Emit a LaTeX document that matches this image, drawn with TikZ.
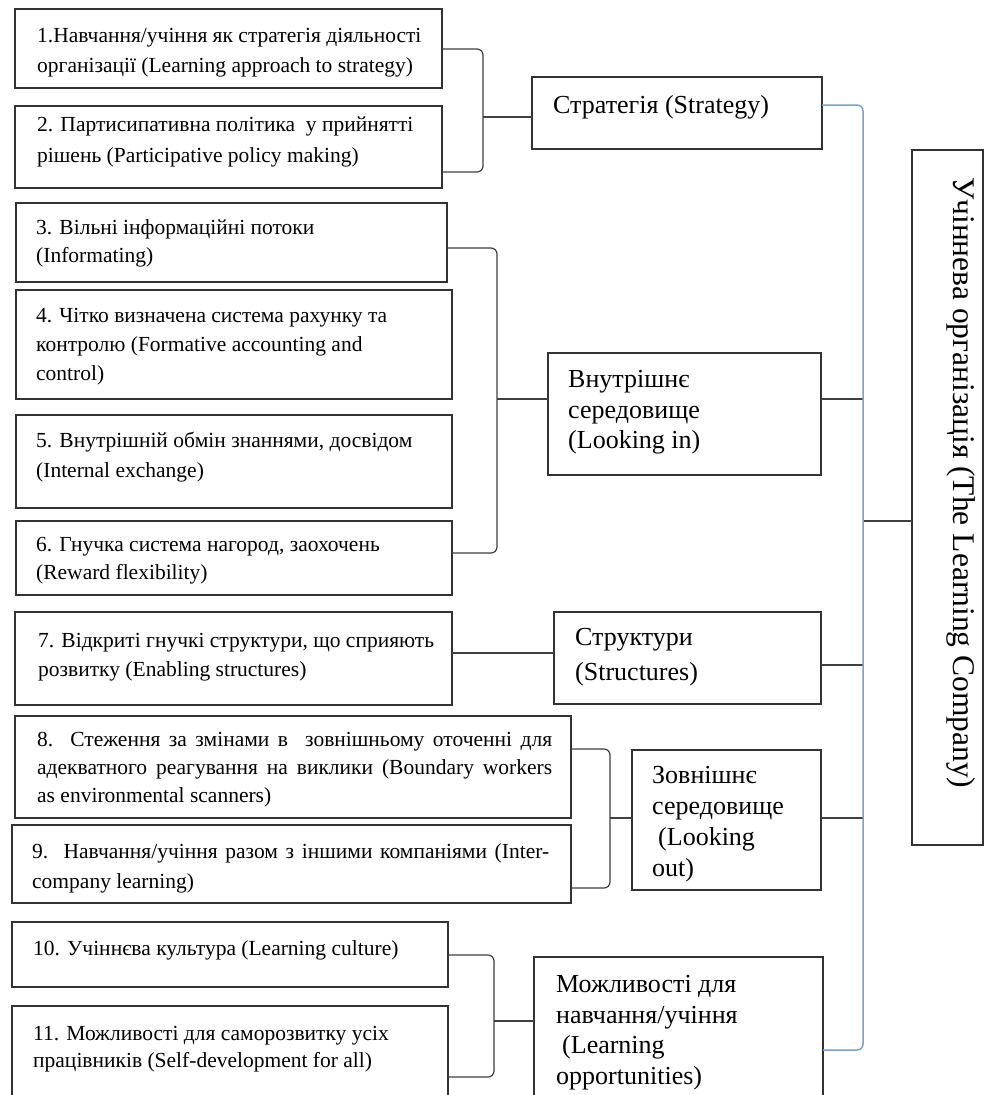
\documentclass[tikz,border=0pt]{standalone}
\usepackage{fontspec}
\setmainfont{Liberation Serif}
\usetikzlibrary{calc}
\definecolor{trunkblue}{RGB}{125,160,205}
\begin{document}
\begin{tikzpicture}[x=1pt,y=-1pt,
  frame/.style={draw=black!80, line width=1.3pt, rectangle, anchor=north west, inner sep=0pt, outer sep=0pt},
  ltext/.style={anchor=north west, align=left, inner sep=0pt, font=\fontsize{21.5}{30}\selectfont},
  mtext/.style={anchor=north west, align=left, inner sep=0pt, font=\fontsize{26}{30.5}\selectfont},
  conn/.style={draw=black!75, line width=1.2pt},
  brace/.style={conn, rounded corners=6pt},
  trunk/.style={draw=trunkblue, line width=1.5pt, rounded corners=6pt}]
\clip (0,0) rectangle (985,1095);
\fill[white] (0,0) rectangle (985,1095);

% left column of factors
\node[frame, minimum width=427pt, minimum height=79pt]  (b1)  at (15,9)    {};
\node[frame, minimum width=427pt, minimum height=82pt]  (b2)  at (15,106)  {};
\node[frame, minimum width=431pt, minimum height=79pt]  (b3)  at (16,203)  {};
\node[frame, minimum width=436pt, minimum height=109pt] (b4)  at (16,290)  {};
\node[frame, minimum width=436pt, minimum height=93pt]  (b5)  at (16,415)  {};
\node[frame, minimum width=436pt, minimum height=74pt]  (b6)  at (16,521)  {};
\node[frame, minimum width=437pt, minimum height=93pt]  (b7)  at (15,612)  {};
\node[frame, minimum width=556pt, minimum height=102pt] (b8)  at (15,716)  {};
\node[frame, minimum width=559pt, minimum height=78pt]  (b9)  at (12,825)  {};
\node[frame, minimum width=436pt, minimum height=65pt]  (b10) at (12,922)  {};
\node[frame, minimum width=436pt, minimum height=110pt] (b11) at (12,1006) {};

\node[ltext] (t1) at (37,21) {\strut 1.Навчання/учіння як стратегія діяльності\\організації (Learning approach to strategy)};
\node[ltext, font=\fontsize{21.5}{31}\selectfont] (t2) at (37,110) {\strut 2. Партисипативна політика\ \ у прийнятті\\рішень (Participative policy making)};
\node[ltext, font=\fontsize{21.5}{28}\selectfont] (t3) at (36,215) {\strut 3. Вільні інформаційні потоки\\(Informating)};
\node[ltext, font=\fontsize{21.5}{29}\selectfont] (t4) at (36,302) {\strut 4. Чітко визначена система рахунку та\\контролю (Formative accounting and\\control)};
\node[ltext] (t5) at (36,426) {\strut 5. Внутрішній обмін знаннями, досвідом\\(Internal exchange)};
\node[ltext, font=\fontsize{21.5}{28}\selectfont] (t6) at (36,532) {\strut 6. Гнучка система нагород, заохочень\\(Reward flexibility)};
\node[ltext, font=\fontsize{21.5}{29}\selectfont] (t7) at (38,627) {\strut 7. Відкриті гнучкі структури, що сприяють\\розвитку (Enabling structures)};
\node[ltext, font=\fontsize{21.5}{28}\selectfont] (t8) at (37,727) {\strut\makebox[515pt][s]{8.\ \ Стеження за змінами в\ \ зовнішньому оточенні для}\\\makebox[515pt][s]{адекватного реагування на виклики (Boundary workers}\\as environmental scanners)};
\node[ltext] (t9) at (32,837) {\strut\makebox[517pt][s]{9.\ \ Навчання/учіння разом з іншими компаніями (Inter-}\\company learning)};
\node[ltext] (t10) at (33,934) {\strut 10. Учіннєва культура (Learning culture)};
\node[ltext, font=\fontsize{21.5}{27}\selectfont] (t11) at (33,1021) {\strut 11. Можливості для саморозвитку усіх\\працівників (Self-development for all)};

% middle column of groups
\node[frame, minimum width=290pt, minimum height=72pt]  (strat) at (532,77)  {};
\node[frame, minimum width=273pt, minimum height=122pt] (li)    at (548,353) {};
\node[frame, minimum width=267pt, minimum height=92pt]  (st)    at (554,612) {};
\node[frame, minimum width=189pt, minimum height=140pt] (lo)    at (632,750) {};
\node[frame, minimum width=289pt, minimum height=160pt] (lop)   at (534,957) {};

\node[mtext] (ms) at (553,92) {\strut Стратегія (Strategy)};
\node[mtext] (mi) at (568,366) {\strut Внутрішнє\\середовище\\(Looking in)};
\node[mtext, font=\fontsize{26}{35}\selectfont] (mt) at (575,621) {\strut Структури\\(Structures)};
\node[mtext, font=\fontsize{26}{31}\selectfont] (mo) at (652,762) {\strut Зовнішнє\\середовище\\\hspace*{6pt}(Looking\\out)};
\node[mtext] (mp) at (556,971) {\strut Можливості для\\навчання/учіння\\\hspace*{6pt}(Learning\\opportunities)};

% whole organisation
\node[frame, minimum width=71pt, minimum height=695pt] (big) at (912,150) {};
\node[anchor=base west, inner sep=0pt, rotate=-90, font=\fontsize{31.5}{36}\selectfont] (bt) at (953,177) {Учіннева організація (The Learning Company)};

% bracket points
\coordinate (u1) at (483,49);  \coordinate (k1) at (483,172); \coordinate (j1) at (483,117);
\coordinate (u2) at (497,248); \coordinate (k2) at (497,553); \coordinate (j2) at (497,399);
\coordinate (u3) at (610,749); \coordinate (k3) at (610,888); \coordinate (j3) at (610,818);
\coordinate (u4) at (494,955); \coordinate (k4) at (494,1077); \coordinate (j4) at (494,1021);
\coordinate (h7) at (500,653);
\coordinate (tt) at (863,105); \coordinate (tb) at (863,1050);
\coordinate (r3) at (863,665); \coordinate (rb) at (863,521);

\draw[brace] (b1.east |- u1) -- (u1) -- (k1) -- (b2.east |- k1);
\draw[brace] (b3.east |- u2) -- (u2) -- (k2) -- (b6.east |- k2);
\draw[brace] (b8.east |- u3) -- (u3) -- (k3) -- (b9.east |- k3);
\draw[brace] (b10.east |- u4) -- (u4) -- (k4) -- (b11.east |- k4);

\draw[conn] (j1) -- (strat.west |- j1);
\draw[conn] (j2) -- (li.west |- j2);
\draw[conn] (b7.east |- h7) -- (st.west |- h7);
\draw[conn] (j3) -- (lo.west |- j3);
\draw[conn] (j4) -- (lop.west |- j4);

\draw[conn] (li.east |- j2) -- (tt |- j2);
\draw[conn] (st.east |- r3) -- (r3);
\draw[conn] (lo.east |- j3) -- (tt |- j3);
\draw[conn] (rb) -- (big.west |- rb);

\draw[trunk] (strat.east |- tt) -- (tt) -- (tb) -- (lop.east |- tb);
\end{tikzpicture}
\end{document}
